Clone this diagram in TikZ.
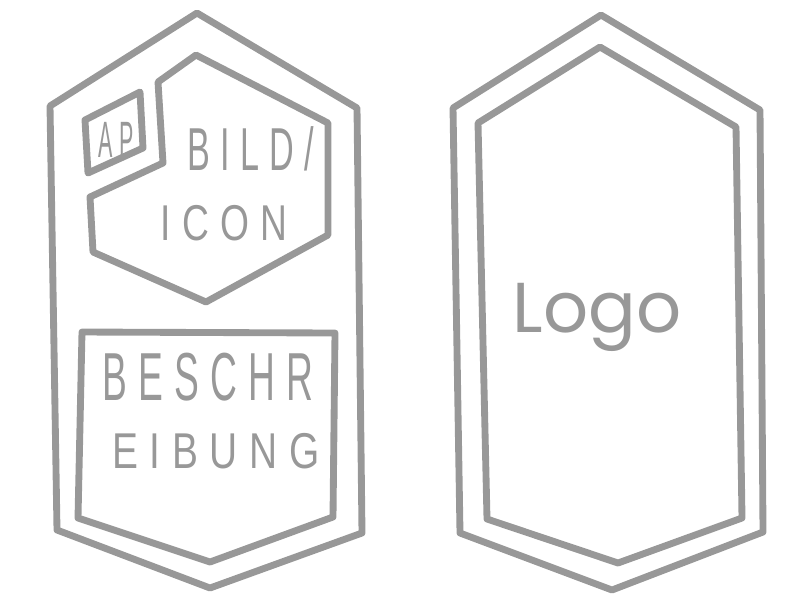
\documentclass[tikz,border=0pt]{standalone}
\usepackage{fontspec}
\usepackage{graphicx}
\newfontfamily\thinfont[LetterSpace=30]{Liberation Sans}
\newfontfamily\logofont{Poppins}
\definecolor{SketchGray}{RGB}{152,152,152}
\newcommand{\handword}[3]{\resizebox{#1}{#2}{\thinfont #3}}

\begin{document}
\begin{tikzpicture}[
  x=0.02cm, y=-0.02cm,
  outline/.style={draw=SketchGray, line width=3.9pt, line join=round, line cap=round},
  word/.style={anchor=base, inner sep=0pt, text=SketchGray}
]
\useasboundingbox (0,0) rectangle (800,600);

% front side
\draw[outline] (197,13) -- (357,108) -- (362,533) -- (210,588) -- (57,530) -- (50,106) -- cycle;
\draw[outline] (158,82) -- (196,55) -- (328,123) -- (328,235) -- (206,302) -- (93,252) -- (90,197) -- (163,163) -- cycle;
\draw[outline] (85,120) -- (140,92) -- (143,148) -- (88,173) -- cycle;
\draw[outline] (82,332) -- (335,333) -- (333,517) -- (210,562) -- (78,518) -- cycle;

\node[word] (ap) at (116,157) {\handword{20pt}{20pt}{AP}};
\node[word] (bild) at (251,170) {\handword{72pt}{25pt}{BILD/}};
\node[word] (icon) at (224,240) {\handword{72pt}{20pt}{ICON}};
\node[word] (beschr) at (208,400) {\handword{120pt}{27pt}{BESCHR}};
\node[word] (eibung) at (216,468) {\handword{118pt}{20pt}{EIBUNG}};

% back side
\draw[outline] (601,15) -- (760,110) -- (763,532) -- (612,590) -- (460,533) -- (453,108) -- cycle;
\draw[outline] (600,47) -- (736,127) -- (742,518) -- (618,563) -- (487,519) -- (478,123) -- cycle;

\node[word] (logo) at (597,332) {\resizebox{96pt}{!}{\logofont Logo}};
\end{tikzpicture}
\end{document}
